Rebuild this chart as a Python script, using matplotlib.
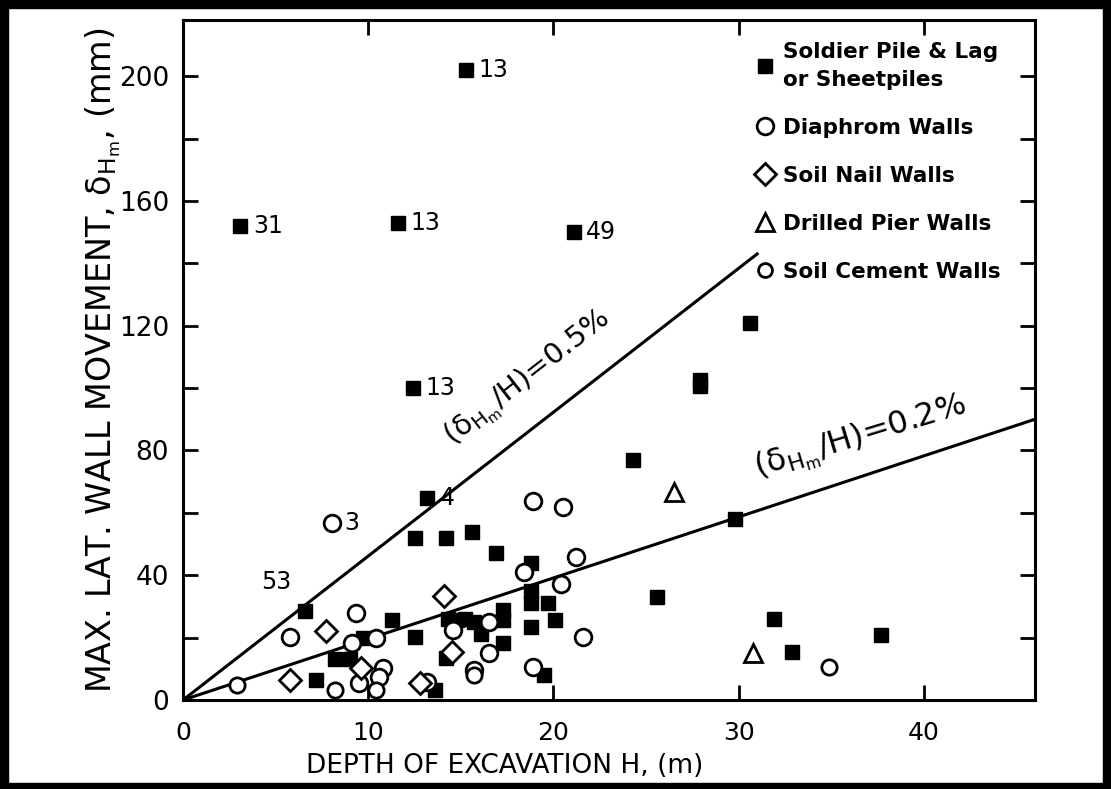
import matplotlib
matplotlib.use("Agg")
import matplotlib.pyplot as plt
from matplotlib.patches import Rectangle
from matplotlib.lines import Line2D

plt.rcParams["font.family"] = ["DejaVu Sans"]
plt.rcParams["mathtext.fontset"] = "dejavusans"
plt.rcParams["mathtext.default"] = "regular"

# soldier pile & lag or sheetpiles (filled squares): depth H (m), movement (mm)
pile_h = [15.3, 3.1, 11.6, 21.1, 12.4, 13.2, 6.6, 27.9, 27.9, 30.6, 24.3, 29.8,
          25.6, 31.9, 32.9, 37.7, 12.5, 14.2, 15.6, 16.9, 18.8, 18.8, 18.8, 19.7,
          20.1, 18.8, 19.5, 17.3, 17.3, 17.3, 16.1, 15.2, 15.7, 14.3, 14.8, 14.2,
          13.6, 12.5, 11.3, 9.7, 8.2, 9.0, 7.2]
pile_d = [202, 152, 153, 150, 100, 64.6, 28.5, 102.5, 100.5, 121, 77, 58,
          33, 26, 15.4, 20.8, 52, 52, 54, 47, 44, 35, 31, 31,
          25.6, 23.4, 8, 29, 25.5, 18.2, 21, 26, 25, 26, 25.6, 13.4,
          3.2, 20.2, 25.5, 19.8, 13, 13.1, 6.4]

# diaphragm walls (open circles)
diaph_h = [8.05, 18.9, 20.5, 21.2, 18.4, 20.4, 21.6, 18.9, 16.5, 16.5, 14.6,
           15.7, 13.2, 5.8, 9.35, 10.4, 9.1, 10.8, 10.6, 9.5]
diaph_d = [56.6, 63.8, 61.9, 46, 41, 37.2, 20.3, 10.6, 15, 25, 22.4,
           9.6, 5.8, 20.2, 28, 19.8, 18.2, 10.2, 7.4, 5.4]

# soil nail walls (open diamonds)
nail_h = [7.7, 5.8, 9.6, 14.1, 14.5, 12.8]
nail_d = [22.1, 6.4, 10.2, 33.3, 15.4, 5.4]

# drilled pier walls (open triangles)
pier_h = [26.5, 30.8]
pier_d = [66.7, 15]

# soil cement walls (small open circles)
cement_h = [2.9, 34.9, 8.2, 10.4, 15.7]
cement_d = [4.8, 10.6, 3.2, 3.2, 8]

# case numbers written beside some points
note_h = [15.3, 3.1, 11.6, 21.1, 12.4, 13.2, 8.05]
note_d = [202, 152, 153, 150, 100, 64.6, 56.6]
note_txt = ["13", "31", "13", "49", "13", "4", "3"]

# hand drawn ratio lines
line05_h = [0, 31]
line05_d = [0, 143]
line02_h = [0, 46]
line02_d = [0, 90]

fig = plt.figure(figsize=(11.11, 7.89), dpi=100)
ax = fig.add_axes([0.1647, 0.1128, 0.7669, 0.8619])

ax.plot(line05_h, line05_d, color="black", lw=2.2, zorder=2)
ax.plot(line02_h, line02_d, color="black", lw=2.2, zorder=2)

ax.plot(pile_h, pile_d, "s", ms=10, color="black", zorder=3)
ax.plot(diaph_h, diaph_d, "o", ms=12, mfc="white", mec="black", mew=2, zorder=3)
ax.plot(cement_h, cement_d, "o", ms=11, mfc="white", mec="black", mew=2, zorder=3)
ax.plot(nail_h, nail_d, "D", ms=11, mfc="white", mec="black", mew=2, zorder=3)
ax.plot(pier_h, pier_d, "^", ms=13, mfc="white", mec="black", mew=2, zorder=3)

for h, d, t in zip(note_h, note_d, note_txt):
    ax.annotate(t, (h, d), xytext=(9, 0), textcoords="offset points",
                ha="left", va="center", fontsize=17)
ax.annotate("53", (6.6, 28.5), xytext=(-10, 12), textcoords="offset points",
            ha="right", va="bottom", fontsize=17)

ax.text(18.6, 103, r"$(\delta_{H_m}/H)$=0.5%", rotation=38, rotation_mode="anchor",
        ha="center", va="center", fontsize=21)
ax.text(36.6, 84, r"$(\delta_{H_m}/H)$=0.2%", rotation=17, rotation_mode="anchor",
        ha="center", va="center", fontsize=23)

ax.set_xlim(0, 46)
ax.set_ylim(0, 218)
ax.set_xticks([0, 10, 20, 30, 40])
ax.set_yticks([0, 40, 80, 120, 160, 200])
ax.set_yticks([20, 60, 100, 140, 180], minor=True)
ax.tick_params(which="both", direction="in", length=11, width=2,
               top=True, right=True, labelsize=19)
ax.tick_params(axis="x", pad=15, labelsize=18)
ax.tick_params(axis="y", pad=10)
for s in ax.spines.values():
    s.set_linewidth(2.2)

ax.set_xlabel("DEPTH OF EXCAVATION H, (m)", fontsize=19)
ax.xaxis.set_label_coords(0.378, -0.0775)
ax.set_ylabel(r"MAX. LAT. WALL MOVEMENT, $\delta_{H_m}$, (mm)", fontsize=24)
ax.yaxis.set_label_coords(-0.07, 0.5)

handles = [
    Line2D([], [], ls="none", marker="s", ms=10, color="black"),
    Line2D([], [], ls="none", marker="o", ms=12, mfc="white", mec="black", mew=2),
    Line2D([], [], ls="none", marker="D", ms=11, mfc="white", mec="black", mew=2),
    Line2D([], [], ls="none", marker="^", ms=13, mfc="white", mec="black", mew=2),
    Line2D([], [], ls="none", marker="o", ms=10, mfc="white", mec="black", mew=2),
]
labels = ["Soldier Pile & Lag\nor Sheetpiles", "Diaphrom Walls", "Soil Nail Walls",
          "Drilled Pier Walls", "Soil Cement Walls"]
leg = ax.legend(handles, labels, loc="upper left", bbox_to_anchor=(0.673, 0.968),
                frameon=False, prop=dict(weight="bold", size=15.5), handlelength=0.8,
                handletextpad=0.45, labelspacing=1.3, borderpad=0, borderaxespad=0)
for t in leg.get_texts():
    t.set_linespacing(1.5)

# thick black frame round the scanned figure
for r in [(0, 0, 1, 6 / 789), (0, 1 - 8 / 789, 1, 8 / 789),
          (0, 0, 8 / 1111, 1), (1 - 8 / 1111, 0, 8 / 1111, 1)]:
    fig.add_artist(Rectangle(r[:2], r[2], r[3], transform=fig.transFigure,
                             color="black", zorder=5))

fig.savefig("out.png", dpi=100)
